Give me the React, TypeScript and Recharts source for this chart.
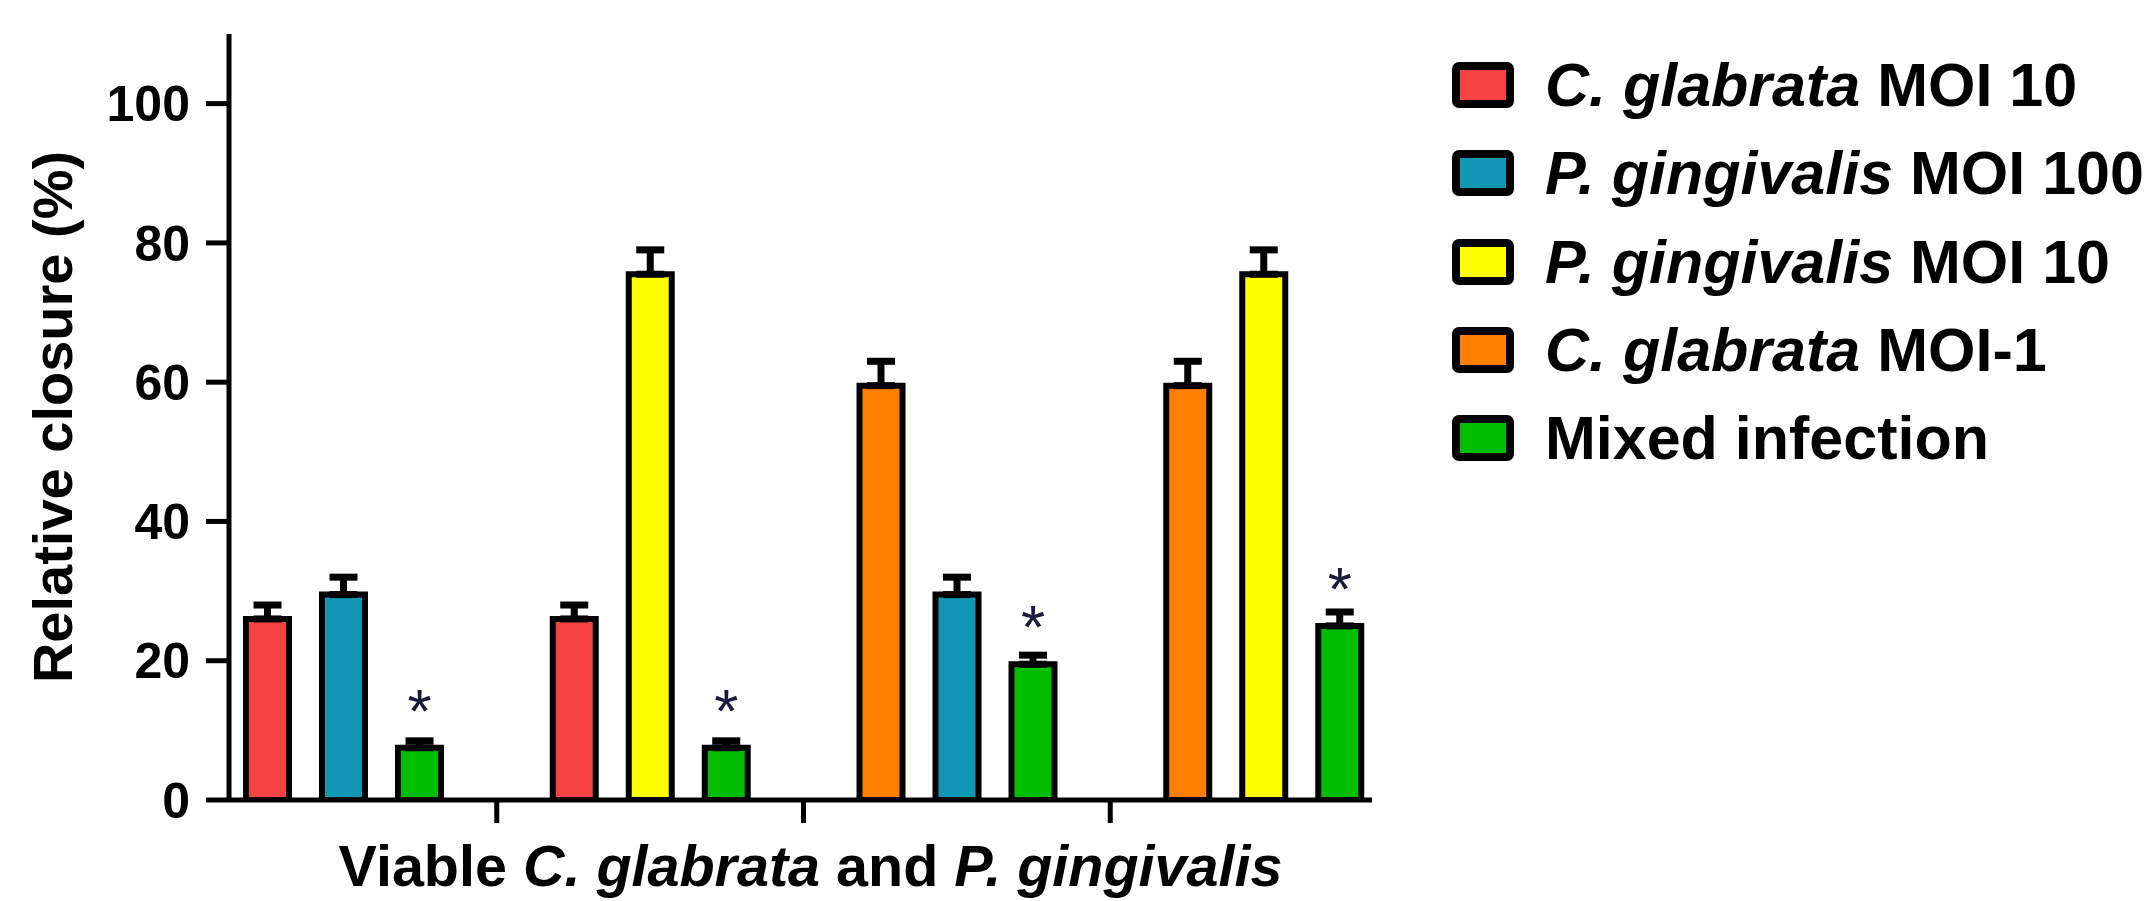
import {
  BarChart, Bar, XAxis, YAxis, ErrorBar, LabelList, Legend
} from 'recharts';

const FONT = '"Liberation Sans", Arial, sans-serif';

// groups on the x axis (labels not shown in the figure)
const groups = ['Cg MOI 10 + Pg MOI 100', 'Cg MOI 10 + Pg MOI 10', 'Cg MOI 1 + Pg MOI 100', 'Cg MOI 1 + Pg MOI 10'];

const seriesNames = ['C. glabrata MOI 10', 'P. gingivalis MOI 100', 'P. gingivalis MOI 10', 'C. glabrata MOI-1', 'Mixed infection'];
const seriesColors = ['#f54242', '#1197b4', '#ffff00', '#ff8000', '#00bd00'];

// relative closure (%) and SD (upper only)
const cg10 = [26, 26, null, null];
const cg10Sd = [2, 2, null, null];
const pg100 = [29.5, null, 29.5, null];
const pg100Sd = [2.5, null, 2.5, null];
const pg10 = [null, 75.5, null, 75.5];
const pg10Sd = [null, 3.5, null, 3.5];
const cg1 = [null, null, 59.5, 59.5];
const cg1Sd = [null, null, 3.5, 3.5];
const mixed = [7.5, 7.5, 19.5, 25];
const mixedSd = [1, 1, 1.3, 2];
const stars = ['*', '*', '*', '*'];

const yTicks = [0, 20, 40, 60, 80, 100];

const up = (v: number | null) => (v == null ? null : [0, v]);

const data = groups.map((g, i) => ({
  group: g,
  cg10: cg10[i], cg10Sd: up(cg10Sd[i]),
  pg100: pg100[i], pg100Sd: up(pg100Sd[i]),
  pg10: pg10[i], pg10Sd: up(pg10Sd[i]),
  cg1: cg1[i], cg1Sd: up(cg1Sd[i]),
  mixed: mixed[i], mixedSd: up(mixedSd[i]),
  star: stars[i],
}));

function LegendLabel({ text }: { text: string }) {
  const m = text.match(/^([A-Z]\. [a-z]+)(.*)$/);
  if (!m) return <span>{text}</span>;
  return <span><i>{m[1]}</i>{m[2]}</span>;
}

const renderLegend = () => (
  <div style={{ fontFamily: FONT, fontWeight: 700, fontSize: 61, color: '#000' }}>
    {seriesNames.map((name, i) => (
      <div key={name} style={{ display: 'flex', alignItems: 'center', height: 88.3, whiteSpace: 'nowrap' }}>
        <span style={{
          display: 'inline-block', width: 46, height: 30, border: '8px solid #000',
          borderRadius: 7, background: seriesColors[i], flex: 'none'
        }} />
        <span style={{ marginLeft: 31 }}><LegendLabel text={name} /></span>
      </div>
    ))}
  </div>
);

// tick marks sit on the boundaries between groups, not under the group centres
const BoundaryTick = (props: any) => {
  const { x, y, payload, index, visibleTicksCount } = props;
  if (index >= visibleTicksCount - 1) return null;
  const bx = x + (payload.offset ?? 0);
  return <line x1={bx} x2={bx} y1={y} y2={y + 23} stroke="#000" strokeWidth={5} />;
};

const XTitle = (props: any) => {
  const { viewBox } = props;
  return (
    <text x={viewBox.x + viewBox.width / 2 + 10} y={viewBox.y + 86} textAnchor="middle"
      fontFamily={FONT} fontWeight={700} fontSize={57.5} fill="#000">
      <tspan>Viable </tspan>
      <tspan fontStyle="italic">C. glabrata</tspan>
      <tspan> and </tspan>
      <tspan fontStyle="italic">P. gingivalis</tspan>
    </text>
  );
};

const axisStroke = { stroke: '#000', strokeWidth: 5 };

export default function App() {
  return (
    <div style={{ position: 'absolute', left: 0, top: 0, width: 2151, height: 901, background: '#fff' }}>
      <BarChart
        width={2151}
        height={901}
        data={data}
        margin={{ top: 34, right: 779, bottom: 0, left: 0 }}
        barSize={43}
        barGap={33}
      >
        <XAxis
          dataKey="group"
          padding={{ left: -39, right: -45 }}
          height={101}
          interval={0}
          tickSize={0}
          tickMargin={0}
          axisLine={axisStroke}
          tickLine={false}
          tick={<BoundaryTick />}
          label={<XTitle />}
        />
        <YAxis
          width={229}
          domain={[0, 110]}
          ticks={yTicks}
          interval={0}
          allowDataOverflow
          tickSize={23}
          tickMargin={16}
          axisLine={axisStroke}
          tickLine={axisStroke}
          tick={{ fill: '#000', fontSize: 50, fontWeight: 700, fontFamily: FONT }}
          label={{
            value: 'Relative closure (%)', angle: -90, position: 'insideLeft', offset: 52,
            style: { textAnchor: 'middle' }, fontSize: 56, fontWeight: 700, fontFamily: FONT, fill: '#000'
          }}
        />
        <Legend content={renderLegend} layout="vertical" align="center" verticalAlign="middle"
          wrapperStyle={{ left: 1452, top: 41, width: 699 }} />
        <Bar dataKey="cg10" name={seriesNames[0]} stackId="a" fill={seriesColors[0]} stroke="#000" strokeWidth={6} isAnimationActive={false}>
          <ErrorBar dataKey="cg10Sd" width={14} stroke="#000" strokeWidth={7} />
        </Bar>
        <Bar dataKey="pg100" name={seriesNames[1]} stackId="b" fill={seriesColors[1]} stroke="#000" strokeWidth={6} isAnimationActive={false}>
          <ErrorBar dataKey="pg100Sd" width={14} stroke="#000" strokeWidth={7} />
        </Bar>
        <Bar dataKey="pg10" name={seriesNames[2]} stackId="b" fill={seriesColors[2]} stroke="#000" strokeWidth={6} isAnimationActive={false}>
          <ErrorBar dataKey="pg10Sd" width={14} stroke="#000" strokeWidth={7} />
        </Bar>
        <Bar dataKey="cg1" name={seriesNames[3]} stackId="a" fill={seriesColors[3]} stroke="#000" strokeWidth={6} isAnimationActive={false}>
          <ErrorBar dataKey="cg1Sd" width={14} stroke="#000" strokeWidth={7} />
        </Bar>
        <Bar dataKey="mixed" name={seriesNames[4]} stackId="c" fill={seriesColors[4]} stroke="#000" strokeWidth={6} isAnimationActive={false}>
          <ErrorBar dataKey="mixedSd" width={14} stroke="#000" strokeWidth={7} />
          <LabelList dataKey="star" position="top" offset={16} fill="#1a1a3a" fontSize={62} fontFamily={FONT} />
        </Bar>
      </BarChart>
    </div>
  );
}
